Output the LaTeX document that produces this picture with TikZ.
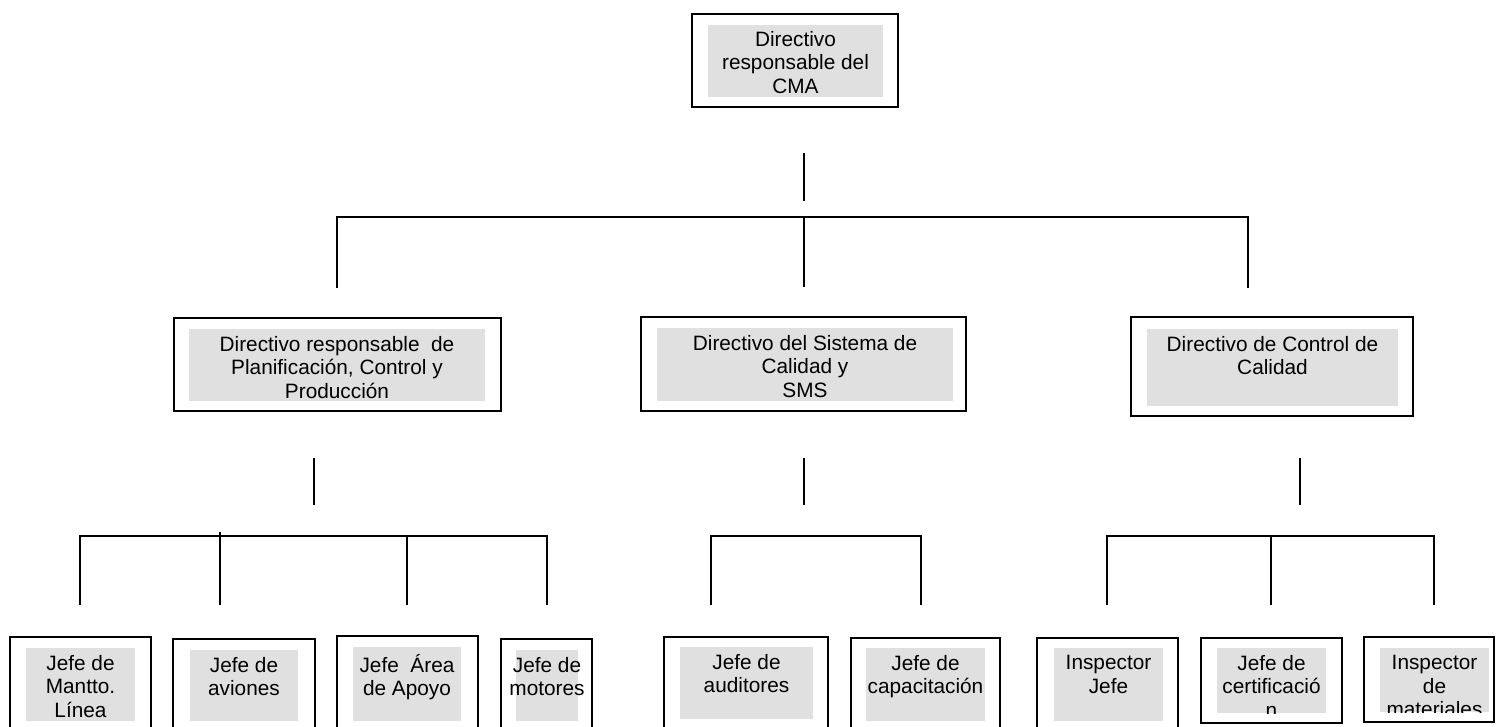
\documentclass[tikz,border=0pt]{standalone}
\usepackage{fontspec}
\setmainfont{Liberation Sans}
\usetikzlibrary{positioning,calc}
\definecolor{oink}{HTML}{000000}
\definecolor{opane}{HTML}{E0E0E0}

\tikzset{
  frame/.style 2 args={draw=oink,line width=1.2pt,fill=white,inner sep=0pt,
    minimum width=#1*0.5pt,minimum height=#2*0.5pt},
  pane/.style 2 args={fill=opane,inner sep=0pt,
    minimum width=#1*0.5pt,minimum height=#2*0.5pt},
  caption/.style={anchor=north,align=center,inner sep=0pt,text=oink,
    font=\fontsize{10.4}{11.9}\selectfont},
  link/.style={draw=oink,line width=1pt},
}

\begin{document}
\begin{tikzpicture}[x=0.5pt,y=-0.5pt]
  \useasboundingbox (0,0) rectangle (1496,727);

  % top
  \node[frame={206}{93}] (cma) at (795,60.5) {};
  \node[pane={175}{72}] (cmaP) at (795.5,61) {};
  \node[caption] (cmaT) at ($(cmaP.north)+(0,6)$) {Directivo\\responsable del\\CMA};

  % second level
  \node[frame={327}{93}] (pla) at (337.5,364.5) {};
  \node[pane={296}{72}] (plaP) at (337,365) {};
  \node[caption] (plaT) at ($(plaP.north)+(0,7)$) {Directivo responsable~ de\\Planificación, Control y\\Producción};

  \node[frame={325}{94}] (sis) at (803.5,364) {};
  \node[pane={296}{73}] (sisP) at (805,364.5) {};
  \node[caption] (sisT) at ($(sisP.north)+(0,7)$) {Directivo del Sistema de\\Calidad y\\SMS};

  \node[frame={282}{99}] (cal) at (1272,366.5) {};
  \node[pane={251}{77}] (calP) at (1272.5,367.5) {};
  \node[caption] (calT) at ($(calP.north)+(0,7)$) {Directivo de Control de\\Calidad};

  % third level
  \node[frame={141}{108}] (lin) at (80.5,691) {};
  \node[pane={109}{73}] (linP) at (80.5,684.5) {};
  \node[caption] (linT) at ($(linP.north)+(0,7)$) {Jefe de\\Mantto.\\Línea};

  \node[frame={142}{106}] (avi) at (244,692) {};
  \node[pane={108}{71}] (aviP) at (244,685.5) {};
  \node[caption] (aviT) at ($(aviP.north)+(0,7)$) {Jefe de\\aviones};

  \node[frame={141}{109}] (apo) at (407.5,690.5) {};
  \node[pane={108}{74}] (apoP) at (407,684) {};
  \node[caption] (apoT) at ($(apoP.north)+(0,7)$) {Jefe~ Área\\de Apoyo};

  \node[frame={91}{106}] (mot) at (546.5,692) {};
  \node[pane={62}{71}] (motP) at (547,685.5) {};
  \node[caption] (motT) at ($(motP.north)+(0,7)$) {Jefe de\\motores};

  \node[frame={164}{108}] (aud) at (746,691) {};
  \node[pane={133}{72}] (audP) at (746.5,683) {};
  \node[caption] (audT) at ($(audP.north)+(0,7)$) {Jefe de\\auditores};

  \node[frame={149}{107}] (cap) at (925.5,691.5) {};
  \node[pane={119}{73}] (capP) at (925.5,684.5) {};
  \node[caption] (capT) at ($(capP.north)+(0,7)$) {Jefe de\\capacitación};

  \node[frame={141}{107}] (ins) at (1107.5,691.5) {};
  \node[pane={109}{73}] (insP) at (1108.5,684.5) {};
  \node[caption] (insT) at ($(insP.north)+(0,7)$) {Inspector\\Jefe};

  \node[frame={141}{85}] (cer) at (1271.5,680.5) {};
  \node[pane={109}{65}] (cerP) at (1271.5,680.5) {};
  \begin{scope}
    \clip (cerP.south west) rectangle (cerP.north east);
    \node[caption] (cerT) at ($(cerP.north)+(0,7)$) {Jefe de\\certificació\\n};
  \end{scope}

  \node[frame={130}{85}] (mat) at (1429,679.5) {};
  \node[pane={109}{64}] (matP) at (1434.5,680) {};
  \begin{scope}
    \clip (matP.south west) rectangle (matP.north east);
    \node[caption] (matT) at ($(matP.north)+(0,7)$) {Inspector\\de\\materiales};
  \end{scope}

  % connectors
  \coordinate (busA) at (0,217);
  \coordinate (busB) at (0,536);
  \coordinate (cmaS) at (804,153);
  \draw[link] (cmaS) -- ++(0,48);
  \coordinate (dpla) at (337,288);
  \coordinate (dsis) at (804,287);
  \coordinate (dcal) at (1248,288);
  \draw[link] (dpla) -- (dpla |- busA) -- (dcal |- busA) -- (dcal);
  \draw[link] (dsis |- busA) -- (dsis);

  \coordinate (plaS) at (314,458);
  \coordinate (sisS) at (804,458);
  \coordinate (calS) at (1300,458);
  \draw[link] (plaS) -- ++(0,47);
  \draw[link] (sisS) -- ++(0,47);
  \draw[link] (calS) -- ++(0,47);

  \coordinate (dlin) at (80,605);
  \coordinate (davi) at (220,605);
  \coordinate (dapo) at (407,605);
  \coordinate (dmot) at (547,605);
  \draw[link] (dlin) -- (dlin |- busB) -- (dmot |- busB) -- (dmot);
  \draw[link] ($(davi |- busB)+(0,-4)$) -- (davi);
  \draw[link] (dapo |- busB) -- (dapo);

  \coordinate (daud) at (711,605);
  \coordinate (dcap) at (921,605);
  \draw[link] (daud) -- (daud |- busB) -- (dcap |- busB) -- (dcap);

  \coordinate (dins) at (1107,605);
  \coordinate (dcer) at (1271,605);
  \coordinate (dmat) at (1434,605);
  \draw[link] (dins) -- (dins |- busB) -- (dmat |- busB) -- (dmat);
  \draw[link] (dcer |- busB) -- (dcer);
\end{tikzpicture}
\end{document}
